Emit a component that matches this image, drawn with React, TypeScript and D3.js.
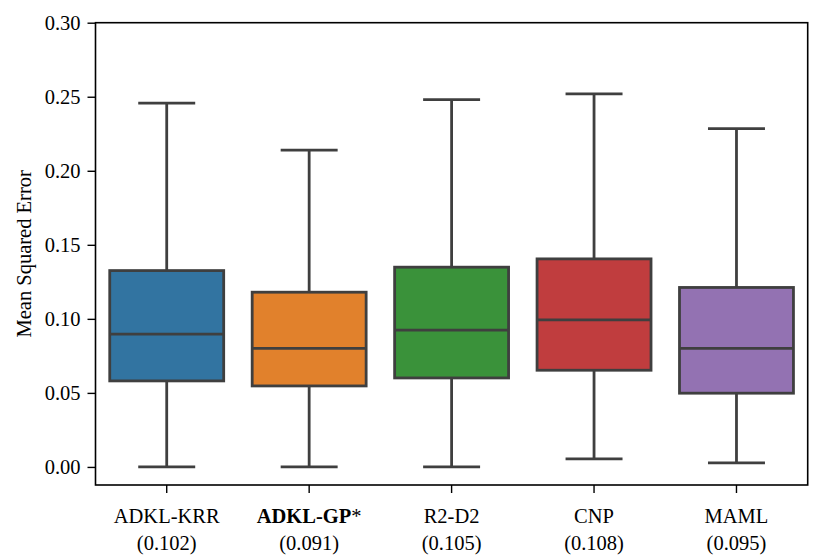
import { useEffect, useRef } from 'react';
import * as d3 from 'd3';

const methods = ['ADKL-KRR', 'ADKL-GP', 'R2-D2', 'CNP', 'MAML'];
const meanScores = ['0.102', '0.091', '0.105', '0.108', '0.095'];
const boldMethod = 'ADKL-GP';

const whiskerLow = [0.0, 0.0, 0.0, 0.0054, 0.0027];
const q1 = [0.0581, 0.0547, 0.0601, 0.0653, 0.0498];
const median = [0.0897, 0.08, 0.0924, 0.0993, 0.08];
const q3 = [0.1326, 0.118, 0.1349, 0.1405, 0.1212];
const whiskerHigh = [0.2457, 0.214, 0.248, 0.252, 0.2284];

const palette = ['#3274a1', '#e1812c', '#3a923a', '#c03d3e', '#9372b2'];
const yTicks = [0, 0.05, 0.1, 0.15, 0.2, 0.25, 0.3];

const WIDTH = 831;
const HEIGHT = 558;
const FONT = '"Liberation Serif", "DejaVu Serif", serif';
const FS = 20.5;

export default function App() {
  const svgRef = useRef<SVGSVGElement>(null);

  useEffect(() => {
    if (!svgRef.current) return;
    const svg = d3.select(svgRef.current);
    svg.selectAll('*').remove();

    const left = 95.5;
    const right = 807.7;
    const top = 22.7;
    const bottom = 485;

    const x = d3.scaleBand<string>().domain(methods).range([left, right]).paddingInner(0).paddingOuter(0);
    const y = d3.scaleLinear().domain([-0.0122, 0.3]).range([bottom, top]);

    const boxW = x.bandwidth() * 0.8;
    const capW = boxW * 0.5;
    const lineColor = '#3f3f3f';
    const lw = 2.8;

    const g = svg.append('g');

    methods.forEach((m, i) => {
      const cx = (x(m) as number) + x.bandwidth() / 2;
      // whiskers
      g.append('line')
        .attr('x1', cx).attr('x2', cx)
        .attr('y1', y(q3[i])).attr('y2', y(whiskerHigh[i]))
        .attr('stroke', lineColor).attr('stroke-width', lw);
      g.append('line')
        .attr('x1', cx).attr('x2', cx)
        .attr('y1', y(q1[i])).attr('y2', y(whiskerLow[i]))
        .attr('stroke', lineColor).attr('stroke-width', lw);
      // caps
      [whiskerHigh[i], whiskerLow[i]].forEach((v) => {
        g.append('line')
          .attr('x1', cx - capW / 2).attr('x2', cx + capW / 2)
          .attr('y1', y(v)).attr('y2', y(v))
          .attr('stroke', lineColor).attr('stroke-width', lw);
      });
      // box
      g.append('rect')
        .attr('x', cx - boxW / 2)
        .attr('y', y(q3[i]))
        .attr('width', boxW)
        .attr('height', y(q1[i]) - y(q3[i]))
        .attr('fill', palette[i])
        .attr('stroke', lineColor)
        .attr('stroke-width', lw);
      // median
      g.append('line')
        .attr('x1', cx - boxW / 2).attr('x2', cx + boxW / 2)
        .attr('y1', y(median[i])).attr('y2', y(median[i]))
        .attr('stroke', lineColor).attr('stroke-width', lw);
    });

    // spines
    svg.append('rect')
      .attr('x', left).attr('y', top)
      .attr('width', right - left).attr('height', bottom - top)
      .attr('fill', 'none').attr('stroke', '#000').attr('stroke-width', 1.6);

    // y axis
    const yAxis = svg.append('g').attr('transform', `translate(${left},0)`)
      .call(d3.axisLeft(y).tickValues(yTicks).tickFormat(d3.format('.2f')).tickSize(8).tickPadding(7));
    yAxis.select('.domain').remove();
    yAxis.selectAll('line').attr('stroke', '#000').attr('stroke-width', 1.4);
    yAxis.selectAll('text').attr('font-family', FONT).attr('font-size', FS).attr('fill', '#000');

    // x axis
    const xAxis = svg.append('g').attr('transform', `translate(0,${bottom})`)
      .call(d3.axisBottom(x).tickSize(8).tickFormat(() => ''));
    xAxis.select('.domain').remove();
    xAxis.selectAll('line').attr('stroke', '#000').attr('stroke-width', 1.4);

    methods.forEach((m, i) => {
      const cx = (x(m) as number) + x.bandwidth() / 2;
      const t = svg.append('text')
        .attr('x', cx).attr('y', 523)
        .attr('text-anchor', 'middle')
        .attr('font-family', FONT).attr('font-size', FS).attr('fill', '#000');
      if (m === boldMethod) {
        t.append('tspan').attr('font-weight', 'bold').text(m);
        t.append('tspan').text('*');
      } else {
        t.text(m);
      }
      svg.append('text')
        .attr('x', cx).attr('y', 550)
        .attr('text-anchor', 'middle')
        .attr('font-family', FONT).attr('font-size', FS).attr('fill', '#000')
        .text(`(${meanScores[i]})`);
    });

    // y label
    svg.append('text')
      .attr('transform', `translate(31,${(top + bottom) / 2}) rotate(-90)`)
      .attr('text-anchor', 'middle')
      .attr('font-family', FONT).attr('font-size', FS).attr('fill', '#000')
      .text('Mean Squared Error');
  }, []);

  return (
    <div style={{ position: 'absolute', left: 0, top: 0 }}>
      <svg ref={svgRef} width={WIDTH} height={HEIGHT} style={{ display: 'block', background: '#fff' }} />
    </div>
  );
}
